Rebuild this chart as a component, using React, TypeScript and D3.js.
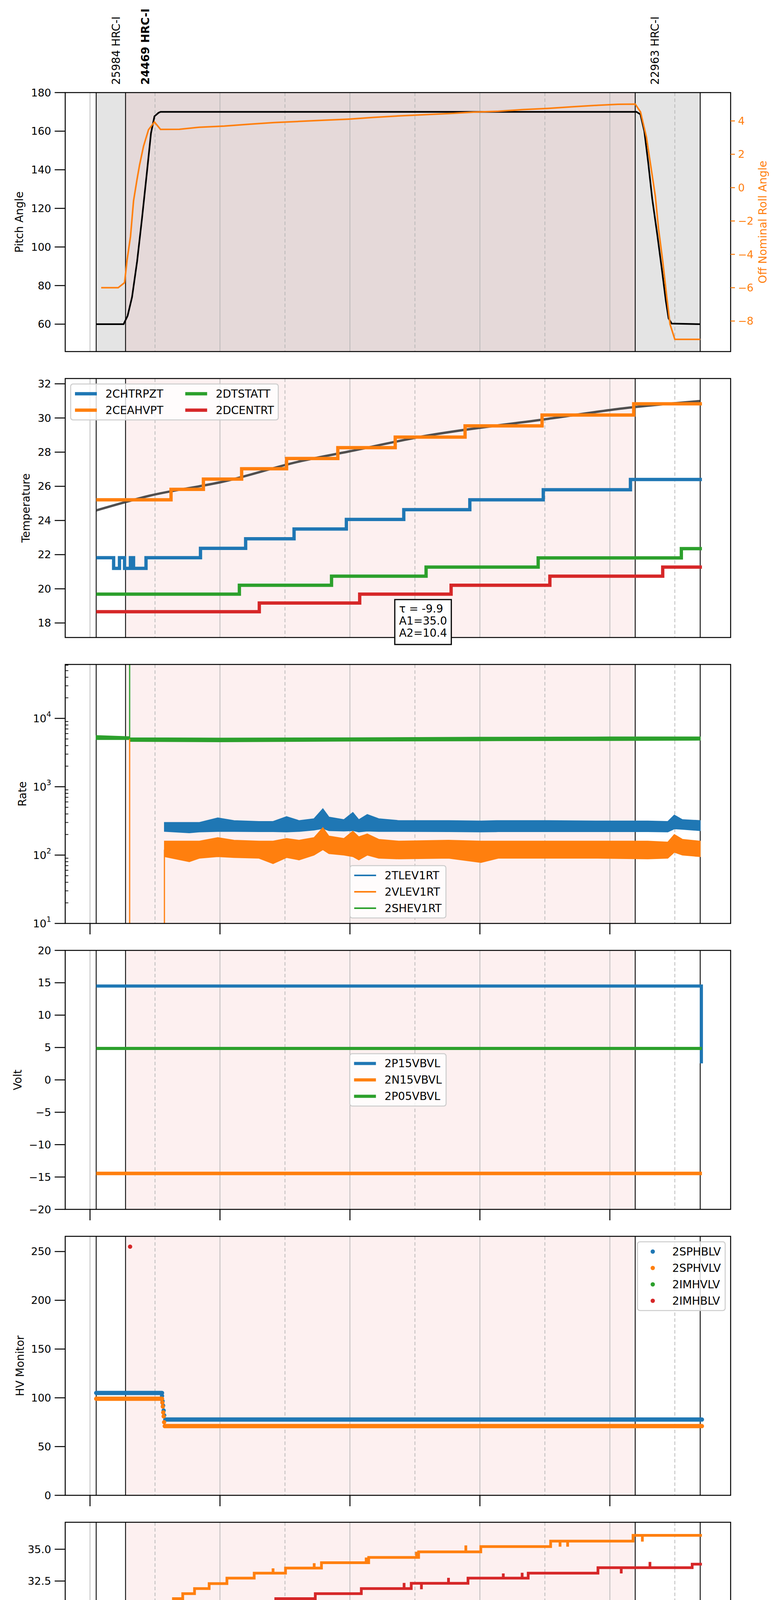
import * as d3 from 'd3'

// ---------- time axis / obsids ----------
const obsTimes = ['22:05.7', '22:32.8', '06:23.4', '07:23.4']
const obsLabels = ['25984 HRC-I', '24469 HRC-I', '22963 HRC-I']
const obsBold = [false, true, false]

// ---------- panel 1: pitch / roll ----------
const pitchTimes = ['22:05.7', '22:31.0', '22:34.7', '22:38.8', '22:43.5', '22:48.0', '22:52.6', '22:56.3', '22:59.5', '23:03.2', '23:05.1',
  '06:24.6', '06:28.2', '06:31.8', '06:35.4', '06:39.1', '06:43.7', '06:48.1', '06:51.7', '06:54.2', '06:57.1', '07:23.4']
const pitchValues = [60, 60, 64.3, 74, 92.6, 114.8, 139, 159, 167.7, 169.5, 170, 170, 168.7, 160, 143.7, 125, 106.7, 88, 72, 63, 60.3, 60]
const rollTimes = ['22:10.3', '22:26', '22:31.9', '22:34.2', '22:37.4', '22:40.2', '22:43.4', '22:45.7', '22:49.4', '22:54', '22:59.5', '23:05.1',
  '23:22.5', '23:41', '00:04', '00:27', '00:50', '01:13', '01:36', '01:59', '02:22', '02:45', '03:08', '03:31', '03:54', '04:17', '04:40',
  '05:03', '05:26', '05:49', '06:07.5', '06:23.4', '06:28.3', '06:33.7', '06:38.3', '06:42', '06:45', '06:48.8', '06:52.4', '06:55.6', '07:00', '07:23.4']
const rollValues = [-6, -6, -5.7, -4.35, -2.92, -0.79, 0.49, 1.34, 2.48, 3.47, 3.94, 3.49, 3.5, 3.62, 3.69, 3.8, 3.9, 3.97, 4.04, 4.11, 4.21,
  4.3, 4.37, 4.44, 4.53, 4.58, 4.68, 4.75, 4.85, 4.94, 5.0, 5.01, 4.54, 3.04, 1.07, -0.52, -2.5, -4.4, -6.5, -8.2, -9.1, -9.1]

// ---------- panel 2: temperature ----------
const chtrTimes = ['22:05.7', '22:21.8', '22:27.2', '22:31.9', '22:37.3', '22:40.2', '22:51.7', '23:42', '00:23.7', '01:08.4', '01:56.7', '02:49.7', '03:50.7', '04:58.5', '06:19', '07:25']
const chtrValues = [21.82, 21.2, 21.82, 21.2, 21.82, 21.2, 21.82, 22.37, 22.93, 23.5, 24.06, 24.63, 25.21, 25.8, 26.4, 26.4]
const ceahTimes = ['22:05.7', '23:14.8', '23:44.7', '00:20', '01:01.5', '01:48.8', '02:41.8', '03:46.3', '04:57.4', '06:22', '07:25']
const ceahValues = [25.21, 25.82, 26.42, 27.03, 27.63, 28.26, 28.88, 29.54, 30.17, 30.83, 30.83]
const dtsTimes = ['22:05.7', '00:17.9', '01:43', '03:10.3', '04:53.8', '07:06', '07:25']
const dtsValues = [19.69, 20.21, 20.74, 21.27, 21.81, 22.35, 22.35]
const dcenTimes = ['22:05.7', '00:36.3', '02:09', '03:33.4', '05:04.6', '06:48.8', '07:25']
const dcenValues = [18.66, 19.17, 19.69, 20.21, 20.74, 21.27, 21.27]
const fitTimes = ['22:05.7', '22:55', '00:04', '01:13', '01:59', '03:08', '05:03', '06:12', '07:23.4']
const fitValues = [24.59, 25.45, 26.29, 27.45, 28.04, 28.93, 29.95, 30.56, 30.99]
const fitText = ['τ = -9.9', 'A1=35.0', 'A2=10.4']

// ---------- panel 3: rates (noise envelopes) ----------
const rateTimes = ['23:08.7', '23:31.7', '23:41', '23:58', '00:13', '00:36', '00:49', '01:01.5', '01:13', '01:26.8', '01:35', '01:40.6', '01:54.4',
  '02:02.7', '02:08.2', '02:16', '02:26.6', '02:45', '03:31', '04:01', '04:17', '05:03', '05:49', '06:35', '06:53.5', '06:59.5', '07:07', '07:23.4']
const tlevHi = [300, 300, 300, 350, 320, 310, 310, 365, 320, 340, 476, 360, 330, 420, 330, 392, 340, 320, 320, 315, 320, 320, 315, 315, 310, 385, 330, 320]
const tlevLo = [222, 212, 218, 222, 222, 220, 220, 218, 222, 232, 245, 228, 225, 228, 218, 225, 222, 222, 220, 218, 220, 220, 220, 220, 218, 242, 238, 228]
const vlevHi = [160, 160, 160, 180, 165, 160, 160, 175, 165, 180, 252, 190, 175, 224, 185, 204, 170, 160, 165, 160, 160, 160, 160, 160, 155, 200, 170, 160]
const vlevLo = [95, 80, 90, 95, 92, 90, 75, 92, 85, 100, 120, 105, 100, 95, 85, 100, 90, 88, 90, 78, 90, 90, 90, 88, 90, 110, 100, 95]
const shevTimes = ['22:05.7', '22:36.5', '22:36.7', '00:00', '02:00', '04:00', '06:00', '07:23.4']
const shevHi = [5600, 5400, 5200, 5150, 5200, 5300, 5350, 5350]
const shevLo = [4900, 4900, 4600, 4550, 4650, 4700, 4750, 4800]
const vlevJumpTimes = ['22:36.6', '23:08.7']
const vlevJumpTops = [5000, 120]
const shevJumpTimes = ['22:36.6']
const shevJumpTops = [1e6]

// ---------- panel 4: volts ----------
const p15Times = ['22:05.7', '07:24.5', '07:24.5']
const p15Values = [14.49, 14.49, 2.55]
const n15Times = ['22:05.7', '07:25']
const n15Values = [-14.45, -14.45]
const p05Times = ['22:05.7', '07:25']
const p05Values = [4.85, 4.85]

// ---------- panel 5: HV monitor ----------
const sphbLevelStart = ['22:05.7', '23:09.5']
const sphbLevelEnd = ['23:06.5', '07:25']
const sphbLevelValues = [105, 77.7]
const sphbDropTimes = ['23:06.5', '23:07', '23:07.5', '23:08', '23:08.5']
const sphbDropValues = [102, 96.5, 92, 87, 82]
const sphvLevelStart = ['22:05.7', '23:09']
const sphvLevelEnd = ['23:06.5', '07:25']
const sphvLevelValues = [99, 71]
const sphvDropTimes = ['23:06.8', '23:07.2', '23:07.6', '23:08', '23:08.4']
const sphvDropValues = [95, 91, 85, 81, 75]
const imhbTimes = ['22:37']
const imhbValues = [255]

// ---------- panel 6: detector temps ----------
const spinTimes = ['22:05.7', '22:16.8', '00:50', '02:41.8', '04:46', '07:25']
const spinValues = [17.63, 18.28, 18.94, 19.62, 20.29, 20.29]
const spinSpikeTimes = ['00:33', '00:54.6', '04:59', '07:24.5']
const spinSpikeValues = [19.0, 18.25, 19.6, 21.0]
const sphvaTimes = ['22:05.7', '23:17', '23:25.6', '23:36.5', '23:50', '00:06.4', '00:31.6', '01:00.5', '01:33.7', '02:17.3', '03:03.4', '04:00.8', '05:05.3', '06:21.4', '07:25']
const sphvaValues = [30.72, 31.12, 31.51, 31.91, 32.3, 32.73, 33.12, 33.52, 33.94, 34.36, 34.79, 35.21, 35.64, 36.09, 36.09]
const sphvaSpikeTimes = ['22:36.5', '00:49', '01:27', '02:15', '03:01.5', '03:47', '05:14', '05:21', '06:30']
const sphvaSpikeValues = [30.3, 33.5, 33.9, 34.35, 34.8, 35.3, 35.2, 35.2, 35.6]
const iminTimes = ['22:05.7', '01:06.2', '03:18.6', '05:50.4', '07:25']
const iminValues = [19.62, 20.29, 20.99, 21.69, 21.69]
const iminSpikeTimes = ['01:13']
const iminSpikeValues = [19.5]
const imhvTimes = ['22:05.7', '23:40', '00:13', '00:51.5', '01:28', '02:10.5', '02:56.6', '03:49', '04:44.6', '05:49', '07:16', '07:25']
const imhvValues = [29.95, 30.34, 30.72, 31.12, 31.51, 31.91, 32.32, 32.73, 33.12, 33.55, 33.83, 33.83]
const imhvSpikeTimes = ['22:36.6', '00:19', '00:29.5', '02:50', '03:06', '03:31', '04:21.6', '04:39', '06:10.5', '06:37']
const imhvSpikeValues = [15, 30.35, 30.35, 32.35, 31.85, 32.75, 33.1, 33.15, 33.1, 34.0]

// ---------- panel 7: FEA temps ----------
const fhtrTimes = ['22:05.7', '23:20.2', '00:19', '01:30', '03:03.4', '05:08.5', '07:25']
const fhtrValues = [22.38, 22.91, 23.48, 24.04, 24.62, 25.21, 25.21]
const fradTimes = ['22:05.7', '22:38.8', '23:07.8', '23:30.3', '00:17.8', '01:35', '03:13.5', '05:26', '07:07', '07:25']
const fradValues = [18.15, 17.69, 18.15, 18.66, 19.17, 19.68, 20.2, 20.73, 20.2, 20.2]
const feprTimes = ['22:05.7', '22:07.7', '01:12', '03:27.8', '03:29.6', '03:32.3', '07:25']
const feprValues = [23.85, 24.62, 25.4, 26.17, 25.4, 26.17, 26.17]
const feprSpikeTimes = ['22:36.8']
const feprSpikeValues = [22.7]
const fe00Times = ['22:05.7', '23:13.4', '23:59.4', '00:51.3', '01:45.2', '02:57.9', '04:21.7', '06:16.7', '07:25']
const fe00Values = [22.34, 22.65, 22.98, 23.32, 23.62, 23.96, 24.28, 24.61, 24.61]
const fe00SpikeTimes = ['22:36.6', '22:37.6', '23:20', '23:33', '23:46', '23:51', '00:04', '00:13', '00:40', '00:57', '01:09', '01:15', '01:26',
  '01:37', '01:41', '02:04.5', '02:25.7', '02:31', '02:40', '03:07.6', '03:15', '03:47', '03:57.7', '04:27', '04:31', '04:44.6', '04:54',
  '04:58.4', '05:27', '05:41.6', '05:42.5', '05:51', '06:02', '06:03', '06:23', '06:42', '06:47', '06:48', '06:53', '07:01.6', '07:04',
  '07:08', '07:08.5', '07:14', '07:22']
const fe00SpikeValues = [16.5, 22.7, 23.0, 22.0, 23.3, 22.0, 22.6, 22.6, 23.6, 22.95, 24.95, 24.3, 22.95, 23.6, 22.95, 24.65, 24.0, 24.0,
  23.25, 23.6, 23.25, 25.65, 24.3, 24.65, 23.95, 23.95, 22.3, 24.65, 23.25, 23.6, 24.65, 24.65, 25.0, 23.95, 23.95, 25.3, 23.6, 26.0,
  23.95, 24.3, 25.65, 25.3, 24.3, 24.3, 24.3]

// ---------- layout ----------
const W = 2000
const H = 5400
const X0 = 167
const X1 = 1871
const PH = 663
const top = (i: number) => 237 + 732 * i
const FONT = "'DejaVu Sans', 'Noto Sans', sans-serif"
const C = { blue: '#1f77b4', orange: '#ff7f0e', green: '#2ca02c', red: '#d62728' }
const yLabelX = [49, 66, 57, 45, 51, 41, 67]

// "HH:MM(.m)" clock time; evening hours are 2021-08-27, morning hours 2021-08-28
const T = (s: string) => {
  const [h, m] = s.split(':').map(Number)
  return new Date(2021, 7, h >= 12 ? 27 : 28, h).getTime() + m * 60000
}

const x = d3.scaleTime().domain([T('21:37.1'), T('07:51.5')]).range([X0, X1])
const hours = d3.timeHour.range(new Date(T('21:30')), new Date(T('07:51.5')))

const y1 = d3.scaleLinear().domain([45.8, 180]).range([top(0) + PH, top(0)])
const y1r = d3.scaleLinear().domain([-9.83, 5.7]).range([top(0) + PH, top(0)])
const y2 = d3.scaleLinear().domain([17.15, 32.31]).range([top(1) + PH, top(1)])
const y3 = d3.scaleLog().domain([10, 10 ** 4.789]).range([top(2) + PH, top(2)])
const y4 = d3.scaleLinear().domain([-20, 20]).range([top(3) + PH, top(3)])
const y5 = d3.scaleLinear().domain([0, 265.6]).range([top(4) + PH, top(4)])
const y6 = d3.scaleLinear().domain([16.76, 37.12]).range([top(5) + PH, top(5)])
const y7 = d3.scaleLinear().domain([17.65, 27.64]).range([top(6) + PH, top(6)])

let ctx: CanvasRenderingContext2D | null = null
const measure = (s: string, fs: number) => {
  if (!ctx) ctx = document.createElement('canvas').getContext('2d')
  if (!ctx) return s.length * fs * 0.65
  ctx.font = `${fs}px 'DejaVu Sans'`
  return ctx.measureText(s).width
}

type Y = (v: number) => number

const linePath = (y: Y, times: string[], values: number[], curve: d3.CurveFactory = d3.curveLinear) =>
  d3.line<number>().x((i) => x(T(times[i]))).y((i) => y(values[i])).curve(curve)(d3.range(times.length)) ?? ''

const stepPath = (y: Y, times: string[], values: number[]) => linePath(y, times, values, d3.curveStepAfter)

const spikePath = (y: Y, times: string[], values: number[], sTimes: string[], sValues: number[]) => {
  const tt = times.map(T)
  return sTimes
    .map((s, k) => {
      const t = T(s)
      const i = Math.max(0, d3.bisectRight(tt, t) - 1)
      return `M${x(t)},${y(values[i])}V${y(sValues[k])}`
    })
    .join('')
}

const bandPath = (y: Y, times: string[], lo: number[], hi: number[]) =>
  d3.area<number>().x((i) => x(T(times[i]))).y0((i) => y(lo[i])).y1((i) => y(hi[i]))(d3.range(times.length)) ?? ''

const jumpPath = (y: Y, times: string[], from: number, tops: number[]) =>
  times.map((s, k) => `M${x(T(s))},${y(from)}V${y(tops[k])}`).join('')

type LegItem = { label: string; color: string }

function Legend({ i, items, loc, cols = 1, lw = 8, dots = false }: { i: number; items: LegItem[]; loc: string; cols?: number; lw?: number; dots?: boolean }) {
  const fs = 28, pad = 11, hl = 56, hp = 22, sp = 14, cs = 56, bap = 14
  const rows = Math.ceil(items.length / cols)
  const colW = d3.range(cols).map((c) => hl + hp + (d3.max(items.slice(c * rows, (c + 1) * rows), (d) => measure(d.label, fs)) ?? 0))
  const w = 2 * pad + d3.sum(colW) + (cols - 1) * cs
  const h = 2 * pad + rows * fs + (rows - 1) * sp
  const t = top(i), b = top(i) + PH
  let bx = X0 + bap
  let by = t + bap
  if (loc === 'upper right') bx = X1 - bap - w
  if (loc === 'lower center') { bx = (X0 + X1) / 2 - w / 2; by = b - bap - h }
  if (loc === 'center') { bx = (X0 + X1) / 2 - w / 2; by = (t + b) / 2 - h / 2 }
  return (
    <g>
      <rect x={bx} y={by} width={w} height={h} rx={6} fill="#fff" fillOpacity={0.8} stroke="#cccccc" strokeWidth={2.5} />
      {items.map((d, k) => {
        const c = Math.floor(k / rows), r = k % rows
        const hx = bx + pad + d3.sum(colW.slice(0, c)) + c * cs
        const cy = by + pad + fs / 2 + r * (fs + sp)
        return (
          <g key={d.label}>
            {dots ? (
              <circle cx={hx + hl / 2} cy={cy} r={5.5} fill={d.color} />
            ) : (
              <line x1={hx} x2={hx + hl} y1={cy} y2={cy} stroke={d.color} strokeWidth={lw} />
            )}
            <text x={hx + hl + hp} y={cy} fontSize={fs} dominantBaseline="central">{d.label}</text>
          </g>
        )
      })}
    </g>
  )
}

function YTicks({ y, ticks, fmt, color = '#000', side = 'left' }: { y: Y; ticks: number[]; fmt: (v: number) => any; color?: string; side?: string }) {
  return (
    <g>
      {ticks.map((v) =>
        side === 'left' ? (
          <g key={v}>
            <line x1={X0 - 27} x2={X0} y1={y(v)} y2={y(v)} stroke="#000" strokeWidth={2.5} />
            <text x={X0 - 36} y={y(v)} textAnchor="end" dominantBaseline="central" fontSize={27} fill={color}>{fmt(v)}</text>
          </g>
        ) : (
          <g key={v}>
            <line x1={X1} x2={X1 + 11} y1={y(v)} y2={y(v)} stroke={color} strokeWidth={2.5} />
            <text x={X1 + 19} y={y(v)} dominantBaseline="central" fontSize={27} fill={color}>{fmt(v)}</text>
          </g>
        )
      )}
    </g>
  )
}

function Frame({ i, label, children }: { i: number; label: string; children?: any }) {
  const t = top(i)
  const first = i === 0
  return (
    <g>
      {first && <rect x={x(T(obsTimes[0]))} y={t} width={x(T(obsTimes[3])) - x(T(obsTimes[0]))} height={PH} fill="#e4e4e4" />}
      <rect x={x(T(obsTimes[1]))} y={t} width={x(T(obsTimes[2])) - x(T(obsTimes[1]))} height={PH} fill={first ? '#e5d9d9' : '#fdf0f0'} />
      {hours.map((d) => (
        <line key={+d} x1={x(d)} x2={x(d)} y1={t} y2={t + PH} stroke="#b5b5b5" strokeWidth={1.8} strokeDasharray={d.getHours() % 2 ? '9,6' : undefined} />
      ))}
      {obsTimes.map((s) => (
        <line key={s} x1={x(T(s))} x2={x(T(s))} y1={t} y2={t + PH} stroke="#000" strokeWidth={2.2} />
      ))}
      <clipPath id={`clip${i}`}>
        <rect x={X0} y={t} width={X1 - X0} height={PH} />
      </clipPath>
      <g clipPath={`url(#clip${i})`} fill="none">{children}</g>
      <rect x={X0} y={t} width={X1 - X0} height={PH} fill="none" stroke="#000" strokeWidth={2.5} />
      <text transform={`translate(${yLabelX[i]},${t + PH / 2}) rotate(-90)`} textAnchor="middle" dominantBaseline="central" fontSize={28}>{label}</text>
      {i >= 2 &&
        hours.filter((d) => d.getHours() % 2 === 0).map((d) => (
          <line key={+d} x1={x(d)} x2={x(d)} y1={t + PH} y2={t + PH + 28} stroke="#000" strokeWidth={2.5} />
        ))}
    </g>
  )
}

export default function App() {
  const fmtD = d3.format('d')
  const fmt1 = d3.format('.1f')
  const decades = [1, 2, 3, 4]
  const minors = decades.flatMap((d) => d3.range(2, 10).map((k) => k * 10 ** d)).filter((v) => v < 10 ** 4.789)
  const fitBoxX = x(T('02:41.4'))
  const fitBoxY = y2(19.37)
  const fitBoxW = (d3.max(fitText, (s) => measure(s, 28)) ?? 120) + 22
  const t7 = top(6) + PH

  return (
    <>
      <style>{'body{margin:0}'}</style>
      <svg width={W} height={H} viewBox={`0 0 ${W} ${H}`} style={{ display: 'block', background: '#fff' }} fontFamily={FONT}>
        {/* obsid labels */}
        {obsLabels.map((s, k) => (
          <text key={s} transform={`translate(${x(T(obsTimes[k])) + 51},217) rotate(-90)`} dominantBaseline="central" fontSize={28} fontWeight={obsBold[k] ? 'bold' : 'normal'}>{s}</text>
        ))}

        {/* panel 1 */}
        <Frame i={0} label="Pitch Angle">
          <path d={linePath(y1, pitchTimes, pitchValues)} stroke="#000" strokeWidth={4.2} />
          <path d={linePath(y1r, rollTimes, rollValues)} stroke={C.orange} strokeWidth={4} />
        </Frame>
        <YTicks y={y1} ticks={[60, 80, 100, 120, 140, 160, 180]} fmt={fmtD} />
        <YTicks y={y1r} ticks={[-8, -6, -4, -2, 0, 2, 4]} fmt={fmtD} color={C.orange} side="right" />
        <text transform={`translate(1953,${top(0) + PH / 2}) rotate(-90)`} textAnchor="middle" dominantBaseline="central" fontSize={28} fill={C.orange}>Off Nominal Roll Angle</text>

        {/* panel 2 */}
        <Frame i={1} label="Temperature">
          <path d={linePath(y2, fitTimes, fitValues, d3.curveMonotoneX)} stroke="#3d3d3d" strokeOpacity={0.9} strokeWidth={6} />
          <path d={stepPath(y2, chtrTimes, chtrValues)} stroke={C.blue} strokeWidth={8.5} />
          <path d={stepPath(y2, ceahTimes, ceahValues)} stroke={C.orange} strokeWidth={8.5} />
          <path d={stepPath(y2, dtsTimes, dtsValues)} stroke={C.green} strokeWidth={8.5} />
          <path d={stepPath(y2, dcenTimes, dcenValues)} stroke={C.red} strokeWidth={8.5} />
        </Frame>
        <YTicks y={y2} ticks={[18, 20, 22, 24, 26, 28, 30, 32]} fmt={fmtD} />
        <Legend i={1} loc="upper left" cols={2} lw={8.5} items={[
          { label: '2CHTRPZT', color: C.blue }, { label: '2CEAHVPT', color: C.orange },
          { label: '2DTSTATT', color: C.green }, { label: '2DCENTRT', color: C.red }]} />
        <rect x={fitBoxX} y={fitBoxY} width={fitBoxW} height={115} fill="#fff" stroke="#000" strokeWidth={3} />
        {fitText.map((s, k) => (
          <text key={s} x={fitBoxX + 11} y={fitBoxY + 24 + k * 31} dominantBaseline="central" fontSize={28}>{s}</text>
        ))}

        {/* panel 3 */}
        <Frame i={2} label="Rate">
          <path d={jumpPath(y3, shevJumpTimes, 5000, shevJumpTops)} stroke={C.green} strokeWidth={3} />
          <path d={bandPath(y3, shevTimes, shevLo, shevHi)} fill={C.green} stroke={C.green} strokeWidth={2} />
          <path d={jumpPath(y3, vlevJumpTimes, 1, vlevJumpTops)} stroke={C.orange} strokeWidth={3} />
          <path d={bandPath(y3, rateTimes, tlevLo, tlevHi)} fill={C.blue} stroke={C.blue} strokeWidth={2} />
          <path d={bandPath(y3, rateTimes, vlevLo, vlevHi)} fill={C.orange} stroke={C.orange} strokeWidth={2} />
        </Frame>
        {decades.map((d) => (
          <g key={d}>
            <line x1={X0 - 27} x2={X0} y1={y3(10 ** d)} y2={y3(10 ** d)} stroke="#000" strokeWidth={2.5} />
            <text x={X0 - 36} y={y3(10 ** d)} textAnchor="end" dominantBaseline="central" fontSize={27}>
              10<tspan dy={-11} fontSize={19}>{d}</tspan>
            </text>
          </g>
        ))}
        {minors.map((v) => (
          <line key={v} x1={X0} x2={X0 + 8} y1={y3(v)} y2={y3(v)} stroke="#000" strokeWidth={1.8} />
        ))}
        <Legend i={2} loc="lower center" lw={4} items={[
          { label: '2TLEV1RT', color: C.blue }, { label: '2VLEV1RT', color: C.orange }, { label: '2SHEV1RT', color: C.green }]} />

        {/* panel 4 */}
        <Frame i={3} label="Volt">
          <path d={linePath(y4, p15Times, p15Values)} stroke={C.blue} strokeWidth={8} />
          <path d={linePath(y4, n15Times, n15Values)} stroke={C.orange} strokeWidth={9} />
          <path d={linePath(y4, p05Times, p05Values)} stroke={C.green} strokeWidth={8} />
        </Frame>
        <YTicks y={y4} ticks={[-20, -15, -10, -5, 0, 5, 10, 15, 20]} fmt={fmtD} />
        <Legend i={3} loc="center" lw={8} items={[
          { label: '2P15VBVL', color: C.blue }, { label: '2N15VBVL', color: C.orange }, { label: '2P05VBVL', color: C.green }]} />

        {/* panel 5 */}
        <Frame i={4} label="HV Monitor">
          {sphbLevelStart.map((s, k) => (
            <line key={s} x1={x(T(s))} x2={x(T(sphbLevelEnd[k]))} y1={y5(sphbLevelValues[k])} y2={y5(sphbLevelValues[k])} stroke={C.blue} strokeWidth={11} strokeLinecap="round" />
          ))}
          {sphbDropTimes.map((s, k) => <circle key={s} cx={x(T(s))} cy={y5(sphbDropValues[k])} r={5.5} fill={C.blue} />)}
          {sphvLevelStart.map((s, k) => (
            <line key={s} x1={x(T(s))} x2={x(T(sphvLevelEnd[k]))} y1={y5(sphvLevelValues[k])} y2={y5(sphvLevelValues[k])} stroke={C.orange} strokeWidth={11} strokeLinecap="round" />
          ))}
          {sphvDropTimes.map((s, k) => <circle key={s} cx={x(T(s))} cy={y5(sphvDropValues[k])} r={5.5} fill={C.orange} />)}
          {imhbTimes.map((s, k) => <circle key={s} cx={x(T(s))} cy={y5(imhbValues[k])} r={5.5} fill={C.red} />)}
        </Frame>
        <YTicks y={y5} ticks={[0, 50, 100, 150, 200, 250]} fmt={fmtD} />
        <Legend i={4} loc="upper right" dots items={[
          { label: '2SPHBLV', color: C.blue }, { label: '2SPHVLV', color: C.orange },
          { label: '2IMHVLV', color: C.green }, { label: '2IMHBLV', color: C.red }]} />

        {/* panel 6 */}
        <Frame i={5} label="Detector Temp">
          <path d={stepPath(y6, spinTimes, spinValues) + spikePath(y6, spinTimes, spinValues, spinSpikeTimes, spinSpikeValues)} stroke={C.blue} strokeWidth={7} />
          <path d={stepPath(y6, sphvaTimes, sphvaValues) + spikePath(y6, sphvaTimes, sphvaValues, sphvaSpikeTimes, sphvaSpikeValues)} stroke={C.orange} strokeWidth={7} />
          <path d={stepPath(y6, iminTimes, iminValues) + spikePath(y6, iminTimes, iminValues, iminSpikeTimes, iminSpikeValues)} stroke={C.green} strokeWidth={7} />
          <path d={stepPath(y6, imhvTimes, imhvValues) + spikePath(y6, imhvTimes, imhvValues, imhvSpikeTimes, imhvSpikeValues)} stroke={C.red} strokeWidth={7} />
        </Frame>
        <YTicks y={y6} ticks={[17.5, 20, 22.5, 25, 27.5, 30, 32.5, 35]} fmt={fmt1} />
        <Legend i={5} loc="center" lw={7} items={[
          { label: '2SPINATM', color: C.blue }, { label: '2SPHVATM', color: C.orange },
          { label: '2IMINATM', color: C.green }, { label: '2IMHVATM', color: C.red }]} />

        {/* panel 7 */}
        <Frame i={6} label="FEA Temp">
          <path d={stepPath(y7, fhtrTimes, fhtrValues)} stroke={C.blue} strokeWidth={7.5} />
          <path d={stepPath(y7, fradTimes, fradValues)} stroke={C.orange} strokeWidth={7.5} />
          <path d={stepPath(y7, feprTimes, feprValues) + spikePath(y7, feprTimes, feprValues, feprSpikeTimes, feprSpikeValues)} stroke={C.green} strokeWidth={7.5} />
          <path d={stepPath(y7, fe00Times, fe00Values) + spikePath(y7, fe00Times, fe00Values, fe00SpikeTimes, fe00SpikeValues)} stroke={C.red} strokeWidth={7.5} />
        </Frame>
        <YTicks y={y7} ticks={[18, 20, 22, 24, 26]} fmt={fmtD} />
        <Legend i={6} loc="upper left" lw={7.5} items={[
          { label: '2FHTRMZT', color: C.blue }, { label: '2FRADPYT', color: C.orange },
          { label: '2FEPRATM', color: C.green }, { label: '2FE00ATM', color: C.red }]} />

        {/* x axis labels */}
        {hours.map((d) =>
          d.getHours() % 2 === 0 ? (
            <text key={+d} x={x(d)} y={t7 + 48} textAnchor="middle" dominantBaseline="central" fontSize={28}>{d3.timeFormat('%Hh')(d)}</text>
          ) : (
            <text key={+d} x={x(d)} y={t7 + 15} textAnchor="middle" dominantBaseline="central" fontSize={16}>{d3.timeFormat('%Hh')(d)}</text>
          )
        )}
        <text x={(X0 + X1) / 2} y={t7 + 86} textAnchor="middle" dominantBaseline="central" fontSize={32}>2021-08-28 (240)</text>
      </svg>
    </>
  )
}
